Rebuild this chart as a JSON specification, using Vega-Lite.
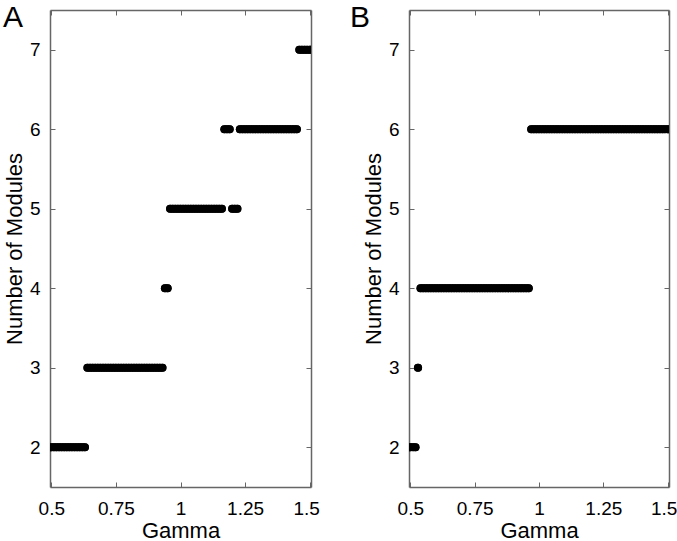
{
  "$schema": "https://vega.github.io/schema/vega-lite/v6.json",
  "padding": {"left": 3, "top": 2, "right": 1, "bottom": 0},
  "spacing": 30,
  "config": {
    "font": "Liberation Sans",
    "view": {"stroke": null},
    "axis": {"domainColor": "#666", "tickColor": "#666", "domainWidth": 1.5, "tickSize": -5, "grid": false, "labelFontSize": 19, "titleFontSize": 22, "labelColor": "#000", "titleColor": "#000", "titleFontWeight": "normal", "labelFont": "Liberation Sans", "titleFont": "Liberation Sans", "labelFlush": false},
    "title": {"fontSize": 30, "fontWeight": "normal", "anchor": "start", "frame": "group", "baseline": "top", "color": "#000", "font": "Liberation Sans"}
  },
  "datasets": {
    "a": [
      {"gamma":0.5,"modules":2},{"gamma":0.51,"modules":2},{"gamma":0.52,"modules":2},{"gamma":0.53,"modules":2},{"gamma":0.54,"modules":2},{"gamma":0.55,"modules":2},{"gamma":0.56,"modules":2},{"gamma":0.57,"modules":2},{"gamma":0.58,"modules":2},{"gamma":0.59,"modules":2},{"gamma":0.6,"modules":2},{"gamma":0.61,"modules":2},{"gamma":0.62,"modules":2},{"gamma":0.63,"modules":2},
      {"gamma":0.64,"modules":3},{"gamma":0.65,"modules":3},{"gamma":0.66,"modules":3},{"gamma":0.67,"modules":3},{"gamma":0.68,"modules":3},{"gamma":0.69,"modules":3},{"gamma":0.7,"modules":3},{"gamma":0.71,"modules":3},{"gamma":0.72,"modules":3},{"gamma":0.73,"modules":3},{"gamma":0.74,"modules":3},{"gamma":0.75,"modules":3},{"gamma":0.76,"modules":3},{"gamma":0.77,"modules":3},{"gamma":0.78,"modules":3},{"gamma":0.79,"modules":3},{"gamma":0.8,"modules":3},{"gamma":0.81,"modules":3},{"gamma":0.82,"modules":3},{"gamma":0.83,"modules":3},{"gamma":0.84,"modules":3},{"gamma":0.85,"modules":3},{"gamma":0.86,"modules":3},{"gamma":0.87,"modules":3},{"gamma":0.88,"modules":3},{"gamma":0.89,"modules":3},{"gamma":0.9,"modules":3},{"gamma":0.91,"modules":3},{"gamma":0.92,"modules":3},{"gamma":0.93,"modules":3},
      {"gamma":0.94,"modules":4},{"gamma":0.95,"modules":4},
      {"gamma":0.96,"modules":5},{"gamma":0.97,"modules":5},{"gamma":0.98,"modules":5},{"gamma":0.99,"modules":5},{"gamma":1.0,"modules":5},{"gamma":1.01,"modules":5},{"gamma":1.02,"modules":5},{"gamma":1.03,"modules":5},{"gamma":1.04,"modules":5},{"gamma":1.05,"modules":5},{"gamma":1.06,"modules":5},{"gamma":1.07,"modules":5},{"gamma":1.08,"modules":5},{"gamma":1.09,"modules":5},{"gamma":1.1,"modules":5},{"gamma":1.11,"modules":5},{"gamma":1.12,"modules":5},{"gamma":1.13,"modules":5},{"gamma":1.14,"modules":5},{"gamma":1.15,"modules":5},{"gamma":1.16,"modules":5},
      {"gamma":1.17,"modules":6},{"gamma":1.18,"modules":6},{"gamma":1.19,"modules":6},
      {"gamma":1.2,"modules":5},{"gamma":1.21,"modules":5},{"gamma":1.22,"modules":5},
      {"gamma":1.23,"modules":6},{"gamma":1.24,"modules":6},{"gamma":1.25,"modules":6},{"gamma":1.26,"modules":6},{"gamma":1.27,"modules":6},{"gamma":1.28,"modules":6},{"gamma":1.29,"modules":6},{"gamma":1.3,"modules":6},{"gamma":1.31,"modules":6},{"gamma":1.32,"modules":6},{"gamma":1.33,"modules":6},{"gamma":1.34,"modules":6},{"gamma":1.35,"modules":6},{"gamma":1.36,"modules":6},{"gamma":1.37,"modules":6},{"gamma":1.38,"modules":6},{"gamma":1.39,"modules":6},{"gamma":1.4,"modules":6},{"gamma":1.41,"modules":6},{"gamma":1.42,"modules":6},{"gamma":1.43,"modules":6},{"gamma":1.44,"modules":6},{"gamma":1.45,"modules":6},
      {"gamma":1.46,"modules":7},{"gamma":1.47,"modules":7},{"gamma":1.48,"modules":7},{"gamma":1.49,"modules":7},{"gamma":1.5,"modules":7}
    ],
    "b": [
      {"gamma":0.5,"modules":2},{"gamma":0.51,"modules":2},{"gamma":0.52,"modules":2},
      {"gamma":0.53,"modules":3},
      {"gamma":0.54,"modules":4},{"gamma":0.55,"modules":4},{"gamma":0.56,"modules":4},{"gamma":0.57,"modules":4},{"gamma":0.58,"modules":4},{"gamma":0.59,"modules":4},{"gamma":0.6,"modules":4},{"gamma":0.61,"modules":4},{"gamma":0.62,"modules":4},{"gamma":0.63,"modules":4},{"gamma":0.64,"modules":4},{"gamma":0.65,"modules":4},{"gamma":0.66,"modules":4},{"gamma":0.67,"modules":4},{"gamma":0.68,"modules":4},{"gamma":0.69,"modules":4},{"gamma":0.7,"modules":4},{"gamma":0.71,"modules":4},{"gamma":0.72,"modules":4},{"gamma":0.73,"modules":4},{"gamma":0.74,"modules":4},{"gamma":0.75,"modules":4},{"gamma":0.76,"modules":4},{"gamma":0.77,"modules":4},{"gamma":0.78,"modules":4},{"gamma":0.79,"modules":4},{"gamma":0.8,"modules":4},{"gamma":0.81,"modules":4},{"gamma":0.82,"modules":4},{"gamma":0.83,"modules":4},{"gamma":0.84,"modules":4},{"gamma":0.85,"modules":4},{"gamma":0.86,"modules":4},{"gamma":0.87,"modules":4},{"gamma":0.88,"modules":4},{"gamma":0.89,"modules":4},{"gamma":0.9,"modules":4},{"gamma":0.91,"modules":4},{"gamma":0.92,"modules":4},{"gamma":0.93,"modules":4},{"gamma":0.94,"modules":4},{"gamma":0.95,"modules":4},{"gamma":0.96,"modules":4},
      {"gamma":0.97,"modules":6},{"gamma":0.98,"modules":6},{"gamma":0.99,"modules":6},{"gamma":1.0,"modules":6},{"gamma":1.01,"modules":6},{"gamma":1.02,"modules":6},{"gamma":1.03,"modules":6},{"gamma":1.04,"modules":6},{"gamma":1.05,"modules":6},{"gamma":1.06,"modules":6},{"gamma":1.07,"modules":6},{"gamma":1.08,"modules":6},{"gamma":1.09,"modules":6},{"gamma":1.1,"modules":6},{"gamma":1.11,"modules":6},{"gamma":1.12,"modules":6},{"gamma":1.13,"modules":6},{"gamma":1.14,"modules":6},{"gamma":1.15,"modules":6},{"gamma":1.16,"modules":6},{"gamma":1.17,"modules":6},{"gamma":1.18,"modules":6},{"gamma":1.19,"modules":6},{"gamma":1.2,"modules":6},{"gamma":1.21,"modules":6},{"gamma":1.22,"modules":6},{"gamma":1.23,"modules":6},{"gamma":1.24,"modules":6},{"gamma":1.25,"modules":6},{"gamma":1.26,"modules":6},{"gamma":1.27,"modules":6},{"gamma":1.28,"modules":6},{"gamma":1.29,"modules":6},{"gamma":1.3,"modules":6},{"gamma":1.31,"modules":6},{"gamma":1.32,"modules":6},{"gamma":1.33,"modules":6},{"gamma":1.34,"modules":6},{"gamma":1.35,"modules":6},{"gamma":1.36,"modules":6},{"gamma":1.37,"modules":6},{"gamma":1.38,"modules":6},{"gamma":1.39,"modules":6},{"gamma":1.4,"modules":6},{"gamma":1.41,"modules":6},{"gamma":1.42,"modules":6},{"gamma":1.43,"modules":6},{"gamma":1.44,"modules":6},{"gamma":1.45,"modules":6},{"gamma":1.46,"modules":6},{"gamma":1.47,"modules":6},{"gamma":1.48,"modules":6},{"gamma":1.49,"modules":6},{"gamma":1.5,"modules":6}
    ]
  },
  "hconcat": [
    {
      "title": {"text": "A", "dx": -47, "offset": -23},
      "width": 261, "height": 477,
      "data": {"name": "a"},
      "resolve": {"axis": {"x": "independent", "y": "independent"}},
      "layer": [
        {
          "mark": {"type": "circle", "size": 66, "color": "#000", "opacity": 1, "clip": true},
          "encoding": {
            "x": {"field": "gamma", "type": "quantitative", "scale": {"domain": [0.495, 1.505], "nice": false, "zero": false},
                  "axis": {"orient": "bottom", "values": [0.5, 0.75, 1, 1.25, 1.5], "labelExpr": "'' + datum.value", "title": "Gamma", "labelPadding": 17, "titlePadding": 2,
                           "labelOffset": {"condition": {"test": "datum.value == 1.5", "value": -3.5}, "value": 0}}},
            "y": {"field": "modules", "type": "quantitative", "scale": {"domain": [1.5, 7.5], "nice": false, "zero": false},
                  "axis": {"orient": "left", "values": [2, 3, 4, 5, 6, 7], "title": "Number of Modules", "labelPadding": 15, "titlePadding": 3}}
          }
        },
        {
          "mark": {"type": "circle", "size": 66, "color": "#000", "opacity": 1, "clip": true},
          "encoding": {
            "x": {"field": "gamma", "type": "quantitative", "axis": {"orient": "top", "values": [0.5, 0.75, 1, 1.25, 1.5], "labels": false, "title": null}},
            "y": {"field": "modules", "type": "quantitative", "axis": {"orient": "right", "values": [2, 3, 4, 5, 6, 7], "labels": false, "title": null}}
          }
        }
      ]
    },
    {
      "title": {"text": "B", "dx": -59, "offset": -23},
      "width": 260, "height": 477,
      "data": {"name": "b"},
      "resolve": {"axis": {"x": "independent", "y": "independent"}},
      "layer": [
        {
          "mark": {"type": "circle", "size": 66, "color": "#000", "opacity": 1, "clip": true},
          "encoding": {
            "x": {"field": "gamma", "type": "quantitative", "scale": {"domain": [0.495, 1.505], "nice": false, "zero": false},
                  "axis": {"orient": "bottom", "values": [0.5, 0.75, 1, 1.25, 1.5], "labelExpr": "'' + datum.value", "title": "Gamma", "labelPadding": 17, "titlePadding": 2,
                           "labelOffset": {"condition": {"test": "datum.value == 1.5", "value": -4}, "value": 0}}},
            "y": {"field": "modules", "type": "quantitative", "scale": {"domain": [1.5, 7.5], "nice": false, "zero": false},
                  "axis": {"orient": "left", "values": [2, 3, 4, 5, 6, 7], "title": "Number of Modules", "labelPadding": 15, "titlePadding": 3}}
          }
        },
        {
          "mark": {"type": "circle", "size": 66, "color": "#000", "opacity": 1, "clip": true},
          "encoding": {
            "x": {"field": "gamma", "type": "quantitative", "axis": {"orient": "top", "values": [0.5, 0.75, 1, 1.25, 1.5], "labels": false, "title": null}},
            "y": {"field": "modules", "type": "quantitative", "axis": {"orient": "right", "values": [2, 3, 4, 5, 6, 7], "labels": false, "title": null}}
          }
        }
      ]
    }
  ]
}
